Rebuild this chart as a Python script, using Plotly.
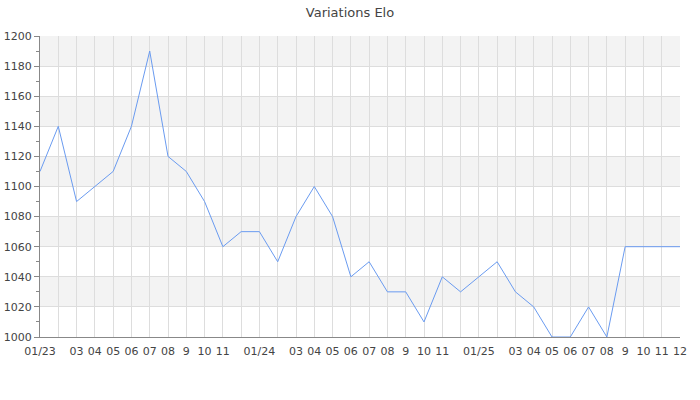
import plotly.graph_objects as go

months = [f"{y}-{m:02d}" for y in (2023, 2024, 2025) for m in range(1, 13)]
elo = [1110, 1140, 1090, 1100, 1110, 1140, 1190, 1120, 1110, 1090, 1060, 1070,
       1070, 1050, 1080, 1100, 1080, 1040, 1050, 1030, 1030, 1010, 1040, 1030,
       1040, 1050, 1030, 1020, 1000, 1000, 1020, 1000, 1060, 1060, 1060, 1060]
tick_labels = ["01/23", "", "03", "04", "05", "06", "07", "08", "9", "10", "11", "",
               "01/24", "", "03", "04", "05", "06", "07", "08", "9", "10", "11", "",
               "01/25", "", "03", "04", "05", "06", "07", "08", "9", "10", "11", "12"]
y_ticks = list(range(1000, 1201, 20))

fig = go.Figure()
fig.add_trace(go.Scatter(x=list(range(len(months))), y=elo, mode="lines",
                         line=dict(color="#6a9bf0", width=1), hoverinfo="y",
                         customdata=months))

shapes = []
for i in range(len(y_ticks) - 1):
    if i % 2 == 1:
        shapes.append(dict(type="rect", xref="paper", yref="y", x0=0, x1=1,
                           y0=y_ticks[i], y1=y_ticks[i + 1],
                           fillcolor="#f3f3f3", line=dict(width=0), layer="below"))

fig.update_layout(
    width=700, height=400,
    margin=dict(l=40, r=20, t=36, b=63, autoexpand=False),
    paper_bgcolor="white", plot_bgcolor="white",
    title=dict(text="Variations Elo", x=0.5, xanchor="center", y=0.968, yanchor="middle",
               font=dict(family="DejaVu Sans", size=13, color="#444")),
    font=dict(family="DejaVu Sans", size=11, color="#444"),
    showlegend=False,
    shapes=shapes,
    xaxis=dict(range=[0, len(months) - 1], tickmode="array", automargin=False,
               tickvals=list(range(len(months))), ticktext=tick_labels,
               showgrid=True, gridcolor="#dddddd", gridwidth=1,
               showline=True, linecolor="#888888", linewidth=1,
               ticks="", zeroline=False, tickangle=0, ticklabelstandoff=4,
               tickfont=dict(size=11, color="#444")),
    yaxis=dict(range=[1000, 1200], tickmode="array", tickvals=y_ticks, automargin=False,
               showgrid=True, gridcolor="#dddddd", gridwidth=1,
               showline=True, linecolor="#888888", linewidth=1,
               ticks="outside", ticklen=5, tickcolor="#888888", zeroline=False,
               minor=dict(tickmode="array", tickvals=list(range(1010, 1200, 20)),
                          ticks="outside", ticklen=3, tickcolor="#888888", showgrid=False),
               tickfont=dict(size=11, color="#444")),
)

fig.write_html("out.html", config={"displayModeBar": False},
               post_script="document.body.style.margin='0';")
